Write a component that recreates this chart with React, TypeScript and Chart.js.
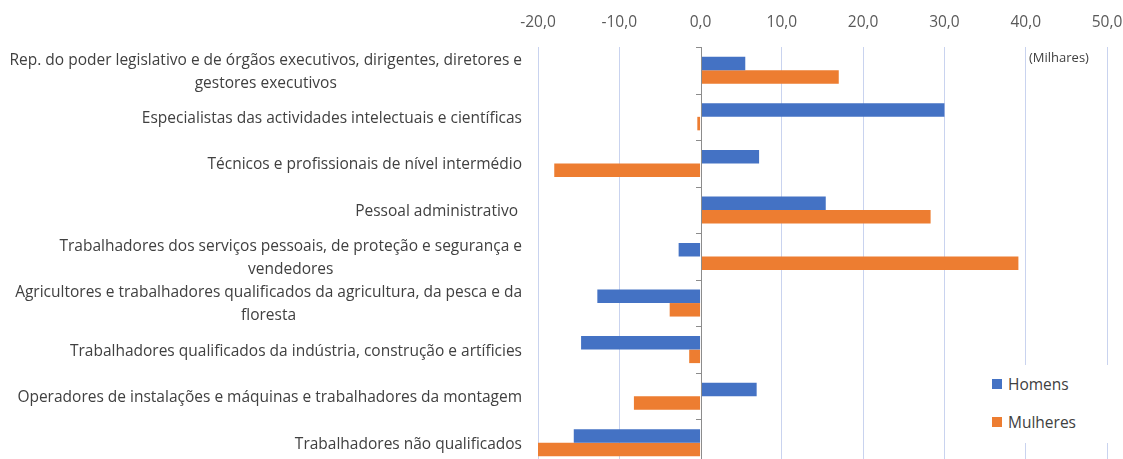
import React, { useEffect, useRef } from "react";
import { Chart, registerables } from "chart.js";

Chart.register(...registerables);

const categories: string[][] = [
  ["Rep. do poder legislativo e de órgãos executivos, dirigentes, diretores e", "gestores executivos"],
  ["Especialistas das actividades intelectuais e científicas"],
  ["Técnicos e profissionais de nível intermédio"],
  ["Pessoal administrativo "],
  ["Trabalhadores dos serviços pessoais, de proteção e segurança e", "vendedores"],
  ["Agricultores e trabalhadores qualificados da agricultura, da pesca e da", "floresta"],
  ["Trabalhadores qualificados da indústria, construção e artíficies"],
  ["Operadores de instalações e máquinas e trabalhadores da montagem"],
  ["Trabalhadores não qualificados"],
];

const homens = [5.5, 30.0, 7.2, 15.4, -2.7, -12.7, -14.7, 6.9, -15.6];
const mulheres = [17.0, -0.4, -18.0, 28.3, 39.1, -3.8, -1.4, -8.2, -20.0];

const seriesNames = ["Homens", "Mulheres"];
const seriesColors = ["#4472C4", "#ED7D31"];

const xMin = -20;
const xMax = 50;
const xStep = 10;
const unitNote = "(Milhares)";

const FONT = "'Open Sans', 'Noto Sans', sans-serif";
const LABEL_SIZE = 15.5;
const LABEL_RIGHT = 522;
const LINE_H = 23;
const LABEL_DY = 1.5;

const labelPlugin = {
  id: "blockLabels",
  afterDraw(chart: any) {
    const ctx = chart.ctx;
    const yScale = chart.scales.y;
    ctx.save();
    ctx.font = `${LABEL_SIZE}px ${FONT}`;
    ctx.fillStyle = "#404040";
    ctx.textAlign = "center";
    ctx.textBaseline = "middle";
    categories.forEach((lines, i) => {
      const yc = yScale.getPixelForTick(i) + LABEL_DY;
      const w = Math.max(...lines.map((l) => ctx.measureText(l).width));
      const cx = LABEL_RIGHT - w / 2;
      const y0 = yc - ((lines.length - 1) * LINE_H) / 2;
      lines.forEach((l, k) => ctx.fillText(l, cx, y0 + k * LINE_H));
    });
    ctx.restore();
  },
};

const tickMarkPlugin = {
  id: "zeroTicks",
  afterDatasetsDraw(chart: any) {
    const ctx = chart.ctx;
    const xScale = chart.scales.x;
    const yScale = chart.scales.y;
    const x0 = xScale.getPixelForValue(0);
    const n = categories.length;
    const ys: number[] = [chart.chartArea.top];
    for (let i = 0; i < n - 1; i++) {
      ys.push((yScale.getPixelForTick(i) + yScale.getPixelForTick(i + 1)) / 2);
    }
    ys.push(chart.chartArea.bottom);
    ctx.save();
    ctx.strokeStyle = "#8c8c8c";
    ctx.lineWidth = 1;
    ctx.beginPath();
    ctx.moveTo(Math.round(x0) + 0.5, chart.chartArea.top);
    ctx.lineTo(Math.round(x0) + 0.5, chart.chartArea.bottom);
    ys.forEach((y) => {
      ctx.moveTo(Math.round(x0) - 5, Math.round(y) + 0.5);
      ctx.lineTo(Math.round(x0) + 0.5, Math.round(y) + 0.5);
    });
    ctx.stroke();
    ctx.restore();
  },
};

export default function App() {
  const ref = useRef<HTMLCanvasElement>(null);

  useEffect(() => {
    if (!ref.current) return;
    const chart = new Chart(ref.current, {
      type: "bar",
      data: {
        labels: categories.map((c) => c.join(" ")),
        datasets: [
          {
            label: seriesNames[0],
            data: homens,
            backgroundColor: seriesColors[0],
            categoryPercentage: 0.58,
            barPercentage: 1,
          },
          {
            label: seriesNames[1],
            data: mulheres,
            backgroundColor: seriesColors[1],
            categoryPercentage: 0.58,
            barPercentage: 1,
          },
        ],
      },
      options: {
        indexAxis: "y",
        responsive: false,
        animation: false,
        layout: { padding: { top: 0, right: 16, bottom: 0, left: 0 } },
        plugins: {
          legend: { display: false },
          tooltip: { enabled: false },
        },
        scales: {
          x: {
            position: "top",
            min: xMin,
            max: xMax,
            ticks: {
              stepSize: xStep,
              padding: 15,
              color: "#595959",
              font: { family: FONT, size: 15.5 },
              callback: (v: any) => Number(v).toFixed(1).replace(".", ","),
            },
            grid: {
              drawTicks: false,
              color: (c: any) => (c.tick && c.tick.value === 0 ? "rgba(0,0,0,0)" : "#c9d3ef"),
              lineWidth: 1,
            },
            border: { display: false },
            afterFit: (s: any) => {
              s.height = 47;
              s.paddingLeft = 0;
              s.paddingRight = 0;
            },
          },
          y: {
            grid: { display: false },
            border: { display: false },
            ticks: { display: false },
            afterFit: (s: any) => {
              s.width = 538;
              s.paddingTop = 0;
              s.paddingBottom = 0;
            },
          },
        },
      } as any,
      plugins: [labelPlugin, tickMarkPlugin],
    });
    return () => chart.destroy();
  }, []);

  return (
    <div
      style={{
        position: "absolute",
        left: 0,
        top: 0,
        width: 1123,
        height: 459,
        overflow: "hidden",
        background: "#fff",
      }}
    >
      <canvas ref={ref} width={1123} height={466} style={{ width: 1123, height: 466, display: "block" }} />
      <div
        style={{
          position: "absolute",
          left: 1029,
          top: 48,
          fontFamily: FONT,
          fontSize: 13,
          color: "#404040",
        }}
      >
        {unitNote}
      </div>
      <div
        style={{
          position: "absolute",
          left: 984,
          top: 365,
          width: 128,
          height: 78,
          background: "#fff",
          fontFamily: FONT,
          fontSize: 15.5,
          color: "#404040",
        }}
      >
        {seriesNames.map((name, i) => (
          <div
            key={name}
            style={{
              position: "absolute",
              left: 8,
              top: 9 + i * 38,
              display: "flex",
              alignItems: "center",
              height: 20,
            }}
          >
            <span
              style={{
                display: "inline-block",
                width: 10,
                height: 10,
                background: seriesColors[i],
                marginRight: 6,
              }}
            />
            {name}
          </div>
        ))}
      </div>
    </div>
  );
}
